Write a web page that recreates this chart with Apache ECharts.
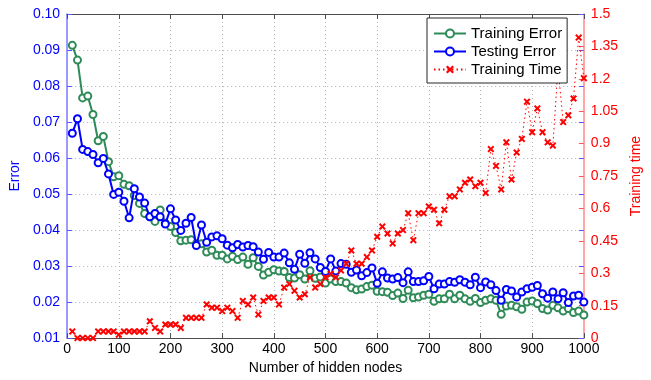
<!DOCTYPE html>
<html>
<head>
<meta charset="utf-8">
<script src="https://cdn.jsdelivr.net/npm/echarts@6/dist/echarts.min.js"></script>
<style>
  html, body { margin: 0; padding: 0; background: #fff; }
  #chart { width: 651px; height: 380px; }
</style>
</head>
<body>
<div id="chart"></div>
<script>
// Hidden-node counts (x values)
const hiddenNodes = [
  10, 20, 30, 40, 50, 60, 70, 80, 90, 100,
  110, 120, 130, 140, 150, 160, 170, 180, 190, 200,
  210, 220, 230, 240, 250, 260, 270, 280, 290, 300,
  310, 320, 330, 340, 350, 360, 370, 380, 390, 400,
  410, 420, 430, 440, 450, 460, 470, 480, 490, 500,
  510, 520, 530, 540, 550, 560, 570, 580, 590, 600,
  610, 620, 630, 640, 650, 660, 670, 680, 690, 700,
  710, 720, 730, 740, 750, 760, 770, 780, 790, 800,
  810, 820, 830, 840, 850, 860, 870, 880, 890, 900,
  910, 920, 930, 940, 950, 960, 970, 980, 990, 1000
];

// Training error (left axis)
const trainingError = [
  0.0913, 0.0872, 0.0767, 0.0772, 0.0721, 0.0648, 0.0660, 0.0590, 0.0548, 0.0551,
  0.0527, 0.0523, 0.0496, 0.0474, 0.0446, 0.0437, 0.0424, 0.0456, 0.0419, 0.0410,
  0.0393, 0.0370, 0.0372, 0.0373, 0.0362, 0.0362, 0.0339, 0.0344, 0.0330, 0.0330,
  0.0320, 0.0327, 0.0318, 0.0325, 0.0305, 0.0323, 0.0299, 0.0275, 0.0283, 0.0290,
  0.0286, 0.0285, 0.0268, 0.0267, 0.0276, 0.0264, 0.0287, 0.0266, 0.0270, 0.0253,
  0.0264, 0.0257, 0.0257, 0.0253, 0.0240, 0.0234, 0.0236, 0.0243, 0.0247, 0.0230,
  0.0229, 0.0227, 0.0218, 0.0225, 0.0210, 0.0233, 0.0212, 0.0214, 0.0219, 0.0222,
  0.0202, 0.0209, 0.0209, 0.0222, 0.0209, 0.0219, 0.0209, 0.0202, 0.0210, 0.0199,
  0.0205, 0.0209, 0.0205, 0.0166, 0.0189, 0.0191, 0.0187, 0.0180, 0.0200, 0.0203,
  0.0196, 0.0182, 0.0178, 0.0191, 0.0184, 0.0175, 0.0182, 0.0171, 0.0175, 0.0164
];

// Testing error (left axis)
const testingError = [
  0.0669, 0.0709, 0.0624, 0.0618, 0.0610, 0.0587, 0.0599, 0.0556, 0.0499, 0.0505,
  0.0480, 0.0434, 0.0515, 0.0492, 0.0475, 0.0437, 0.0446, 0.0437, 0.0417, 0.0459,
  0.0428, 0.0399, 0.0419, 0.0435, 0.0357, 0.0414, 0.0366, 0.0381, 0.0384, 0.0376,
  0.0358, 0.0351, 0.0360, 0.0353, 0.0357, 0.0354, 0.0339, 0.0319, 0.0338, 0.0325,
  0.0325, 0.0336, 0.0309, 0.0291, 0.0333, 0.0308, 0.0337, 0.0320, 0.0296, 0.0285,
  0.0320, 0.0286, 0.0307, 0.0305, 0.0283, 0.0289, 0.0273, 0.0282, 0.0295, 0.0252,
  0.0284, 0.0267, 0.0264, 0.0268, 0.0254, 0.0284, 0.0257, 0.0257, 0.0259, 0.0271,
  0.0237, 0.0250, 0.0250, 0.0257, 0.0255, 0.0262, 0.0255, 0.0248, 0.0269, 0.0240,
  0.0256, 0.0248, 0.0232, 0.0205, 0.0235, 0.0231, 0.0214, 0.0228, 0.0237, 0.0241,
  0.0246, 0.0223, 0.0211, 0.0228, 0.0209, 0.0226, 0.0199, 0.0217, 0.0219, 0.0200
];

// Training time in seconds (right axis)
const trainingTime = [
  0.031, 0.000, 0.000, 0.000, 0.000, 0.031, 0.031, 0.031, 0.031, 0.016,
  0.031, 0.031, 0.031, 0.031, 0.031, 0.078, 0.047, 0.031, 0.063, 0.063,
  0.063, 0.047, 0.094, 0.094, 0.094, 0.094, 0.156, 0.141, 0.141, 0.125,
  0.141, 0.125, 0.094, 0.172, 0.156, 0.188, 0.109, 0.172, 0.188, 0.188,
  0.156, 0.234, 0.250, 0.219, 0.188, 0.203, 0.281, 0.234, 0.250, 0.281,
  0.297, 0.281, 0.313, 0.344, 0.406, 0.344, 0.344, 0.375, 0.406, 0.469,
  0.516, 0.484, 0.438, 0.484, 0.500, 0.578, 0.453, 0.578, 0.578, 0.609,
  0.594, 0.531, 0.594, 0.656, 0.656, 0.688, 0.719, 0.734, 0.703, 0.719,
  0.672, 0.875, 0.797, 0.688, 0.906, 0.734, 0.859, 0.922, 1.094, 0.953,
  1.063, 0.953, 0.906, 0.891, 1.250, 1.000, 1.031, 1.109, 1.391, 1.203
];

// Axis tick values
const nodeTicks = [0, 100, 200, 300, 400, 500, 600, 700, 800, 900, 1000];
const errorTicks = [0.01, 0.02, 0.03, 0.04, 0.05, 0.06, 0.07, 0.08, 0.09, 0.10];
const timeTicks = [0, 0.15, 0.3, 0.45, 0.6, 0.75, 0.9, 1.05, 1.2, 1.35, 1.5];

const seriesNames = ['Training Error', 'Testing Error', 'Training Time'];

const FONT = 'Liberation Sans, Arial, Helvetica, sans-serif';
const GREEN = '#2e8b57';
const BLUE = '#0000ff';
const RED = '#ff0000';
const CROSS = 'path://M2,0 L5,3 L8,0 L10,2 L7,5 L10,8 L8,10 L5,7 L2,10 L0,8 L3,5 L0,2 Z';

const pairs = (ys) => hiddenNodes.map((x, i) => [x, ys[i]]);
const step = (t) => +(t[1] - t[0]).toFixed(6);

const chart = echarts.init(document.getElementById('chart'), null, { renderer: 'canvas' });

chart.setOption({
  animation: false,
  backgroundColor: '#ffffff',
  textStyle: { fontFamily: FONT },
  grid: { left: 65, right: 62.5, top: 14, bottom: 36.7 },
  legend: {
    data: seriesNames,
    orient: 'vertical',
    left: 427,
    top: 18,
    z: 20,
    backgroundColor: '#ffffff',
    borderColor: '#262626',
    borderWidth: 1,
    borderRadius: 0,
    padding: [8, 5, 6, 6],
    itemGap: 3,
    itemWidth: 32,
    itemHeight: 10,
    textStyle: { color: '#000', fontSize: 15, fontFamily: FONT }
  },
  xAxis: [
    {
      type: 'value',
      position: 'bottom',
      min: nodeTicks[0],
      max: nodeTicks[nodeTicks.length - 1],
      interval: step(nodeTicks),
      name: 'Number of hidden nodes',
      nameLocation: 'middle',
      nameGap: 19,
      nameTextStyle: { color: '#000', fontSize: 14, fontFamily: FONT },
      axisLine: { onZero: false, lineStyle: { color: '#4d4d4d', width: 1 } },
      axisTick: { inside: true, length: 5, lineStyle: { color: '#4d4d4d' } },
      axisLabel: {
        color: '#000', fontSize: 14, margin: 4, fontFamily: FONT,
        formatter: (v) => String(v)
      },
      splitLine: {
        show: true, showMinLine: false, showMaxLine: false,
        lineStyle: { color: '#b5b5b5', type: [1, 3], width: 1 }
      }
    },
    {
      type: 'value',
      position: 'top',
      min: nodeTicks[0],
      max: nodeTicks[nodeTicks.length - 1],
      interval: step(nodeTicks),
      axisLine: { onZero: false, lineStyle: { color: '#4d4d4d', width: 1 } },
      axisTick: { inside: true, length: 5, lineStyle: { color: '#4d4d4d' } },
      axisLabel: { show: false },
      splitLine: { show: false }
    }
  ],
  yAxis: [
    {
      type: 'value',
      position: 'left',
      min: errorTicks[0],
      max: errorTicks[errorTicks.length - 1],
      interval: step(errorTicks),
      name: 'Error',
      nameLocation: 'middle',
      nameGap: 42,
      nameRotate: 90,
      nameTextStyle: { color: BLUE, fontSize: 14, fontFamily: FONT },
      axisLine: { onZero: false, lineStyle: { color: '#7a7aff', width: 1.5 } },
      axisTick: { inside: true, length: 5, lineStyle: { color: '#5555ff' } },
      axisLabel: {
        color: BLUE, fontSize: 14, margin: 7, fontFamily: FONT,
        formatter: (v) => v.toFixed(2)
      },
      splitLine: {
        show: true, showMinLine: false, showMaxLine: false,
        lineStyle: { color: '#a9a9ff', type: [1, 3], width: 1 }
      }
    },
    {
      type: 'value',
      position: 'right',
      min: timeTicks[0],
      max: timeTicks[timeTicks.length - 1],
      interval: step(timeTicks),
      name: 'Training time',
      nameLocation: 'middle',
      nameGap: 44,
      nameRotate: 90,
      nameTextStyle: { color: RED, fontSize: 14, fontFamily: FONT },
      axisLine: { onZero: false, lineStyle: { color: '#ff8a8a', width: 1.5 } },
      axisTick: { inside: true, length: 5, lineStyle: { color: '#ff5555' } },
      axisLabel: { color: RED, fontSize: 14, margin: 7, fontFamily: FONT },
      splitLine: { show: false }
    },
    {
      // mirrored error ticks on the right edge
      type: 'value',
      position: 'right',
      min: errorTicks[0],
      max: errorTicks[errorTicks.length - 1],
      interval: step(errorTicks),
      axisLine: { show: false, onZero: false },
      axisTick: { show: true, inside: true, length: 5, lineStyle: { color: '#5555ff' } },
      axisLabel: { show: false },
      splitLine: { show: false }
    }
  ],
  series: [
    {
      name: seriesNames[0],
      type: 'line',
      xAxisIndex: 0,
      yAxisIndex: 0,
      data: pairs(trainingError),
      symbol: 'emptyCircle',
      symbolSize: 7,
      showAllSymbol: true,
      lineStyle: { color: GREEN, width: 2 },
      itemStyle: { color: GREEN, borderColor: GREEN, borderWidth: 1.8 },
      z: 2
    },
    {
      name: seriesNames[1],
      type: 'line',
      xAxisIndex: 0,
      yAxisIndex: 0,
      data: pairs(testingError),
      symbol: 'emptyCircle',
      symbolSize: 7,
      showAllSymbol: true,
      lineStyle: { color: BLUE, width: 2 },
      itemStyle: { color: BLUE, borderColor: BLUE, borderWidth: 1.8 },
      z: 3
    },
    {
      name: seriesNames[2],
      type: 'line',
      xAxisIndex: 0,
      yAxisIndex: 1,
      data: pairs(trainingTime),
      symbol: CROSS,
      symbolSize: 7,
      showAllSymbol: true,
      lineStyle: { color: RED, width: 1, type: [1.5, 3] },
      itemStyle: { color: RED },
      z: 4
    }
  ]
});
</script>
</body>
</html>
